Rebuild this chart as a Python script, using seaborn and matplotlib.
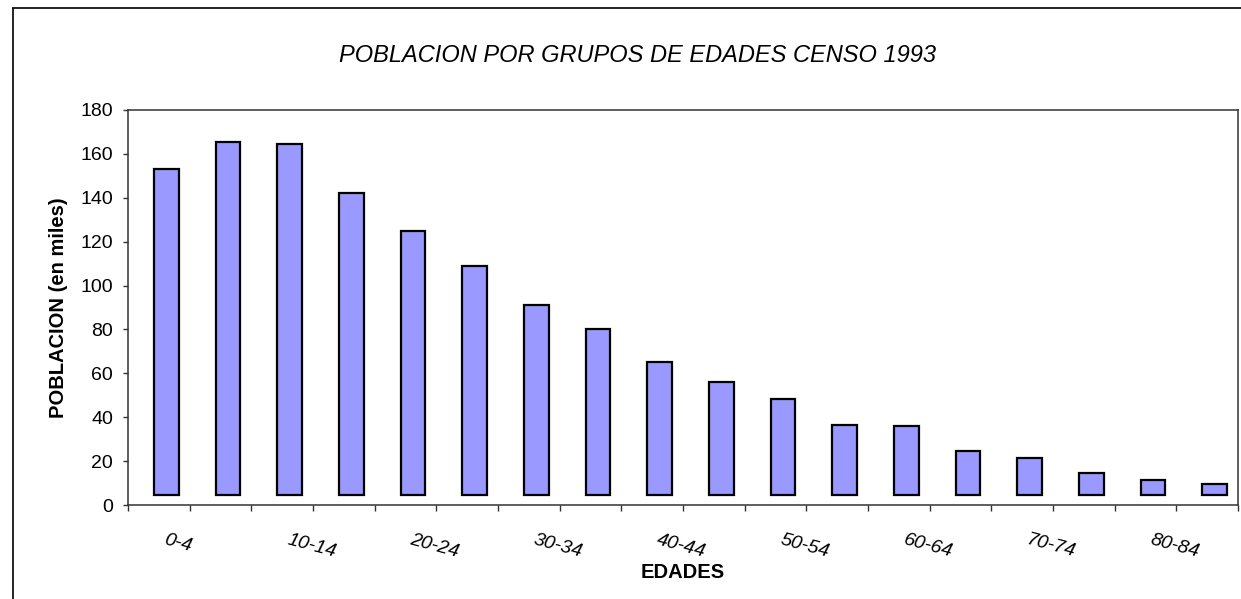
import numpy as np
import pandas as pd
import seaborn as sns
import matplotlib.pyplot as plt
from matplotlib.lines import Line2D

# datos (poblacion en miles)
edades = ['0-4', '5-9', '10-14', '15-19', '20-24', '25-29', '30-34', '35-39',
          '40-44', '45-49', '50-54', '55-59', '60-64', '65-69', '70-74',
          '75-79', '80-84', '85 y +']
poblacion = [153, 165.5, 164.3, 142, 124.8, 108.7, 91, 80, 65.3, 56,
             48.3, 36.3, 35.8, 24.7, 21.5, 14.8, 11.2, 9.6]
base = 4.5  # las barras arrancan un poco por encima del eje

df = pd.DataFrame({'edad': edades, 'poblacion': poblacion})
df['altura'] = df['poblacion'] - base

sns.set_style('white', rc={'text.color': 'black', 'axes.labelcolor': 'black',
                           'xtick.color': 'black', 'ytick.color': 'black'})
plt.rcParams['font.family'] = ['Liberation Sans', 'DejaVu Sans']

fig = plt.figure(figsize=(12.41, 5.99), dpi=100)
ax = fig.add_axes([0.1031, 0.1569, 0.8945, 0.6595])

sns.barplot(data=df, x='edad', y='altura', bottom=base, color='#9999FF',
            saturation=1, width=0.4, edgecolor='black', linewidth=1.6, ax=ax)

n = len(edades)
off = 0.12
ax.set_xlim(-0.5 - off, n - 0.5 - off)
ax.set_ylim(0, 180)
ax.set_yticks(np.arange(0, 181, 20))

# marcas en los limites de cada grupo, etiquetas cada dos grupos
ax.set_xticks(np.arange(n + 1) - 0.5 - off)
ax.set_xticklabels([])
ax.set_xticks(np.arange(0, n, 2), minor=True)
ax.set_xticklabels(edades[::2], minor=True, rotation=-15, ha='left', va='top',
                   rotation_mode='anchor', fontstyle='italic', fontsize=14)
ax.tick_params(axis='x', which='major', direction='out', length=4.5, width=1,
               color='#333333', bottom=True)
ax.tick_params(axis='x', which='minor', length=0, pad=19)
ax.tick_params(axis='y', direction='out', length=3.8, width=1, color='#333333',
               labelsize=14, pad=7, left=True)

for s in ax.spines.values():
    s.set_visible(True)
    s.set_color('#333333')
    s.set_linewidth(1.1)

ax.set_xlabel('EDADES', fontsize=14.5, fontweight='bold', va='center')
ax.xaxis.set_label_coords(0.5, -0.17)
ax.set_ylabel('POBLACION (en miles)', fontsize=14.5, fontweight='bold', va='center')
ax.yaxis.set_label_coords(-0.063, 0.5)

fig.text(0.514, 0.908, 'POBLACION POR GRUPOS DE EDADES CENSO 1993',
         ha='center', va='center', fontsize=17, fontstyle='italic')

# borde exterior del grafico
fig.add_artist(Line2D([13 / 1241, 13 / 1241], [0, 1 - 8 / 599],
                      transform=fig.transFigure, color='black', lw=1.2))
fig.add_artist(Line2D([13 / 1241, 1], [1 - 8 / 599, 1 - 8 / 599],
                      transform=fig.transFigure, color='black', lw=1.2))

fig.savefig('out.png', dpi=100)
